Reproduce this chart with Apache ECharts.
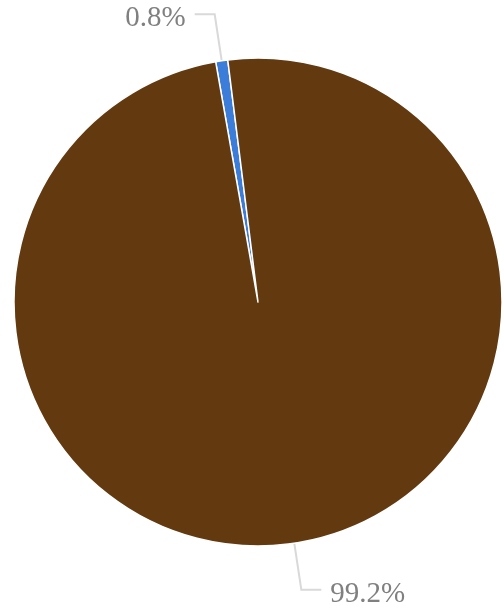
<!DOCTYPE html>
<html>
<head>
<meta charset="utf-8">
<style>
  html, body { margin: 0; padding: 0; background: #ffffff; }
  #chart { width: 504px; height: 609px; }
</style>
<script src="https://cdn.jsdelivr.net/npm/echarts@6/dist/echarts.min.js"></script>
</head>
<body>
<div id="chart"></div>
<script>
// Share of each part (percent)
const categories = ['Part A', 'Part B'];
const shares = [0.8, 99.2];
const sliceColors = ['#3b7dd8', '#633a10'];

const labelFont = '"Liberation Serif", "Times New Roman", serif';

const chart = echarts.init(document.getElementById('chart'), null, { renderer: 'canvas' });

chart.setOption({
  animation: false,
  series: [{
    type: 'pie',
    center: [258, 302],
    radius: 244,
    startAngle: 100,
    clockwise: true,
    avoidLabelOverlap: false,
    data: categories.map((name, i) => ({
      name: name,
      value: shares[i],
      itemStyle: { color: sliceColors[i] }
    })),
    itemStyle: { borderColor: '#ffffff', borderWidth: 1.5 },
    label: {
      show: true,
      position: 'outside',
      formatter: p => '{v|' + p.value.toFixed(1) + '%}',
      fontFamily: labelFont,
      fontSize: 29,
      color: '#808080',
      distanceToLabelLine: 9,
      rich: {
        v: {
          fontFamily: labelFont,
          fontSize: 29,
          color: '#808080',
          lineHeight: 38,
          verticalAlign: 'bottom'
        }
      }
    },
    labelLine: {
      show: true,
      length: 47,
      length2: 20,
      smooth: false,
      lineStyle: { color: '#d9d9d9', width: 2 }
    },
    emphasis: { disabled: true }
  }]
});
</script>
</body>
</html>
